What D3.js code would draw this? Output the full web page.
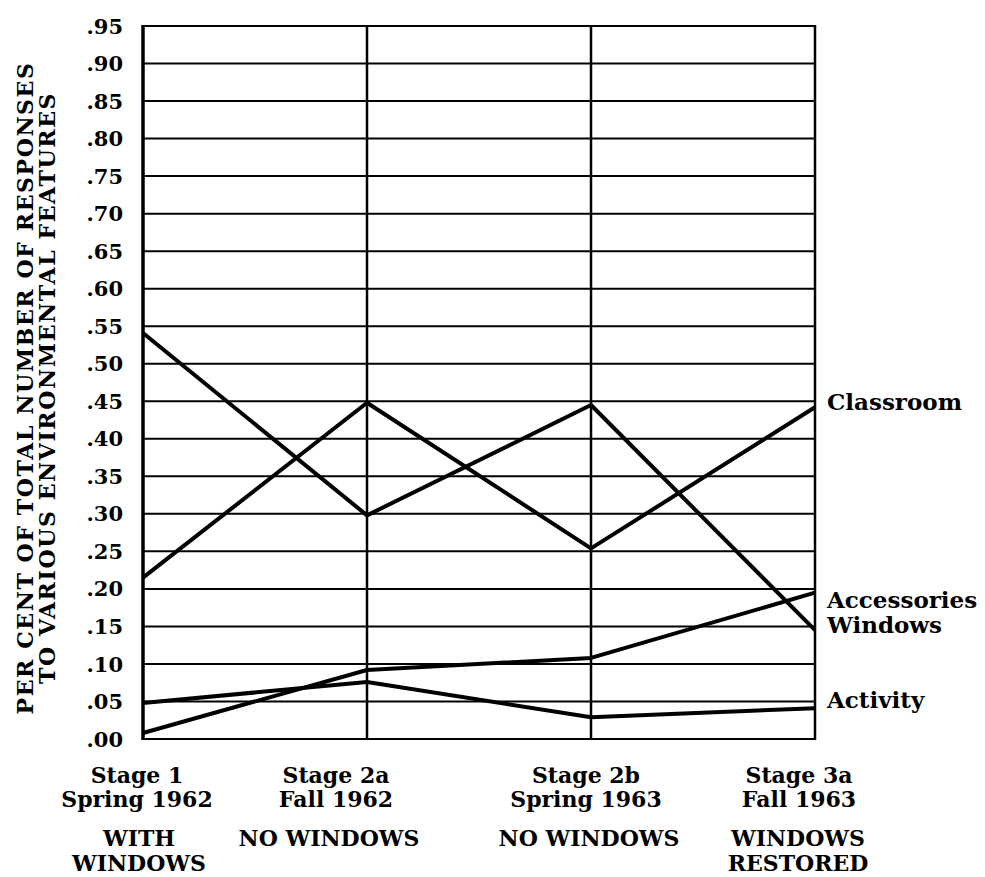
<!DOCTYPE html>
<html>
<head>
<meta charset="utf-8">
<script src="https://cdn.jsdelivr.net/npm/d3@7"></script>
<style>
  body { margin: 0; background: #fff; }
  text { font-family: "DejaVu Serif", "Liberation Serif", serif; font-weight: bold; fill: #000; }
</style>
</head>
<body>
<svg id="chart" width="985" height="877"></svg>
<script>
"use strict";

// stages along the x axis
var stages = ["Stage 1", "Stage 2a", "Stage 2b", "Stage 3a"];
var seasons = ["Spring 1962", "Fall 1962", "Spring 1963", "Fall 1963"];
var conditions = [["WITH", "WINDOWS"], ["NO WINDOWS"], ["NO WINDOWS"], ["WINDOWS", "RESTORED"]];

// proportions
var classroom = [0.215, 0.448, 0.254, 0.442];
var windows = [0.541, 0.298, 0.445, 0.145];
var accessories = [0.008, 0.092, 0.108, 0.195];
var activity = [0.048, 0.076, 0.029, 0.041];

var seriesNames = ["Classroom", "Windows", "Accessories", "Activity"];
var yTicks = d3.range(0, 20).map(function(i) { return i * 0.05; });

var svg = d3.select("#chart");
var margin = {left: 143, right: 170, top: 26, bottom: 138};
var width = 985, height = 877;

var x = d3.scalePoint().domain(stages).range([margin.left, width - margin.right]);
var y = d3.scaleLinear().domain([0, 0.95]).range([height - margin.bottom, margin.top]);

// horizontal grid
svg.append("g").selectAll("line")
  .data(yTicks)
  .enter().append("line")
  .attr("x1", x(stages[0])).attr("x2", x(stages[3]))
  .attr("y1", function(d) { return y(d); }).attr("y2", function(d) { return y(d); })
  .attr("stroke", "#000").attr("stroke-width", 2);

// vertical stage lines
svg.append("g").selectAll("line")
  .data(stages)
  .enter().append("line")
  .attr("x1", function(d) { return x(d); }).attr("x2", function(d) { return x(d); })
  .attr("y1", y(0.95) - 1).attr("y2", y(0) + 1)
  .attr("stroke", "#000")
  .attr("stroke-width", function(d, i) { return i === 0 ? 3.5 : 2.5; });

// y tick labels
svg.append("g").selectAll("text")
  .data(yTicks)
  .enter().append("text")
  .attr("x", x(stages[0]) - 20)
  .attr("y", function(d) { return y(d); })
  .attr("dy", "0.36em")
  .attr("text-anchor", "end")
  .attr("font-size", "21px")
  .text(function(d) { return d3.format(".2f")(d).replace(/^0/, ""); });

// y axis title
var title = svg.append("text")
  .attr("transform", "translate(33,388) rotate(-90)")
  .attr("text-anchor", "middle")
  .attr("font-size", "22px")
  .attr("letter-spacing", "1.6px");
title.append("tspan").attr("x", 0).attr("dy", 0).text("PER CENT OF TOTAL NUMBER OF RESPONSES");
title.append("tspan").attr("x", 0).attr("dy", "1em").text("TO VARIOUS ENVIRONMENTAL FEATURES");

// data lines
var line = d3.line()
  .x(function(d, i) { return x(stages[i]); })
  .y(function(d) { return y(d); });

var allSeries = [classroom, windows, accessories, activity];
svg.append("g").selectAll("path")
  .data(allSeries)
  .enter().append("path")
  .attr("d", line)
  .attr("fill", "none")
  .attr("stroke", "#000")
  .attr("stroke-width", 4)
  .attr("stroke-linejoin", "round");

// end labels (baseline offset from the line end)
var labelNudge = [3, 3, 15, 0];
svg.append("g").selectAll("text")
  .data(allSeries)
  .enter().append("text")
  .attr("x", x(stages[3]) + 12)
  .attr("y", function(d, i) { return y(d[3]) + labelNudge[i]; })
  .attr("font-size", "23px")
  .text(function(d, i) { return seriesNames[i]; });

// x category labels
var catShift = [-6, -31, -5, -16];
var condShift = [-4, -38, -2, -17];
var cats = svg.append("g");
stages.forEach(function(s, i) {
  var cx = x(s) + catShift[i];
  var t = cats.append("text").attr("text-anchor", "middle").attr("font-size", "22px");
  t.append("tspan").attr("x", cx).attr("y", y(0) + 44).text(s);
  t.append("tspan").attr("x", cx).attr("y", y(0) + 68).text(seasons[i]);
  var c = cats.append("text").attr("text-anchor", "middle").attr("font-size", "22px");
  conditions[i].forEach(function(w, j) {
    c.append("tspan").attr("x", x(s) + condShift[i]).attr("y", y(0) + 107 + j * 25).text(w);
  });
});
</script>
</body>
</html>
